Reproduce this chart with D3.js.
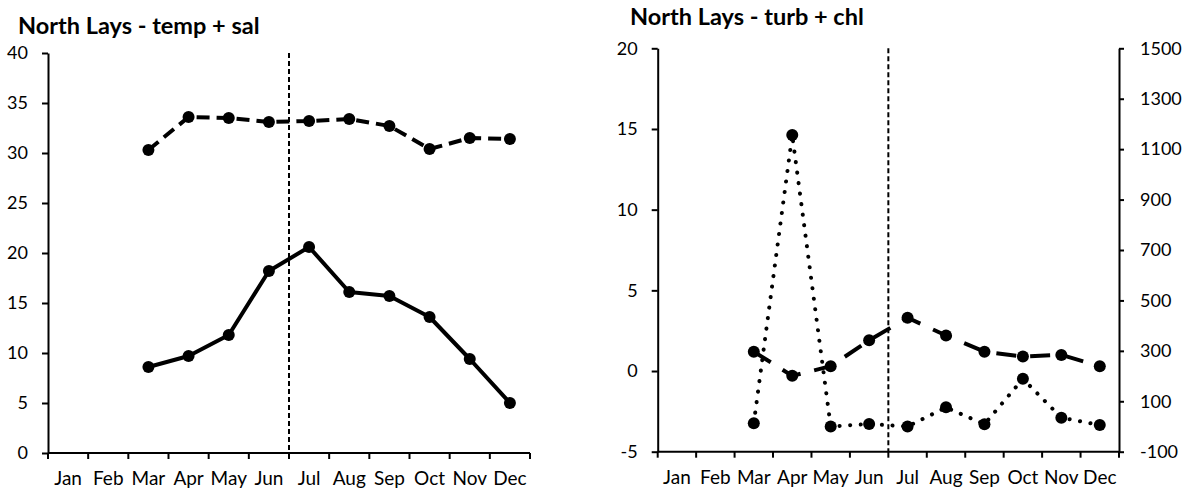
<!DOCTYPE html>
<html>
<head>
<meta charset="utf-8">
<script src="https://cdn.jsdelivr.net/npm/d3@7"></script>
<style>
  html, body { margin: 0; padding: 0; background: #fff; }
  svg { display: block; font-family: Lato, "Open Sans", sans-serif; }
  .title { font-weight: bold; font-size: 23.5px; }
</style>
</head>
<body>
<svg id="chart" width="1189" height="492"></svg>
<script>
// Monthly readings, North Lays
const months = ["Jan","Feb","Mar","Apr","May","Jun","Jul","Aug","Sep","Oct","Nov","Dec"];
const temp = [null, null, 8.6, 9.7, 11.8, 18.2, 20.6, 16.1, 15.7, 13.6, 9.4, 5.0];
const sal  = [null, null, 30.3, 33.6, 33.5, 33.1, 33.2, 33.4, 32.7, 30.4, 31.5, 31.4];
const turb = [null, null, 1.2, -0.3, 0.3, 1.9, 3.3, 2.2, 1.2, 0.9, 1.0, 0.3];
const chl  = [null, null, 13, 1156, 0, 10, 0, 76, 9, 189, 35, 6];

const tickLeftA  = [0, 5, 10, 15, 20, 25, 30, 35, 40];
const tickLeftB  = [-5, 0, 5, 10, 15, 20];
const tickRightB = [-100, 100, 300, 500, 700, 900, 1100, 1300, 1500];
const splitMonth = "Jul";

const LABEL_SIZE = 18;
const MONTH_SIZE = 19;
const plain = v => String(v);   // hyphen-minus, no thousands separator

const svg = d3.select("#chart");

function pts(vals) {
  return months.map((m, i) => ({ m, v: vals[i] })).filter(d => d.v !== null);
}

function monthAxis(g, x, y0) {
  // baseline
  g.append("line")
    .attr("x1", x.range()[0]).attr("x2", x.range()[1])
    .attr("y1", y0).attr("y2", y0)
    .attr("stroke", "#000").attr("stroke-width", 2);
  // tick marks at month boundaries
  const bounds = months.map(m => x(m)).concat([x.range()[1]]);
  g.selectAll(null).data(bounds).join("line")
    .attr("x1", d => d).attr("x2", d => d)
    .attr("y1", y0).attr("y2", y0 + 6)
    .attr("stroke", "#000").attr("stroke-width", 2);
  // labels centred in each band
  const ax = g.append("g").attr("transform", `translate(0,${y0})`)
    .call(d3.axisBottom(x).tickSize(0).tickPadding(19));
  ax.select(".domain").remove();
  ax.selectAll("text").attr("font-size", MONTH_SIZE).attr("font-family", "Lato, sans-serif").attr("fill", "#000");
}

function valueAxis(g, axis, xPos) {
  const ax = g.append("g").attr("transform", `translate(${xPos},0)`).call(axis);
  ax.select(".domain").attr("stroke-width", 2);
  ax.selectAll(".tick line").attr("stroke-width", 2);
  ax.selectAll("text").attr("font-size", LABEL_SIZE).attr("font-family", "Lato, sans-serif").attr("fill", "#000");
  return ax;
}

function series(g, data, x, y, dash, width) {
  const line = d3.line().x(d => x(d.m) + x.bandwidth() / 2).y(d => y(d.v));
  g.append("path").datum(data)
    .attr("d", line)
    .attr("fill", "none").attr("stroke", "#000")
    .attr("stroke-width", width)
    .attr("stroke-linecap", dash === "dot" ? "round" : "butt")
    .attr("stroke-linejoin", "round")
    .attr("stroke-dasharray", dash === "dot" ? "0.1,10.5" : dash);
  g.selectAll(null).data(data).join("circle")
    .attr("cx", d => x(d.m) + x.bandwidth() / 2)
    .attr("cy", d => y(d.v))
    .attr("r", 6)
    .attr("fill", "#000");
}

// ---- Panel A: temperature + salinity ----
{
  const g = svg.append("g");
  const x = d3.scaleBand().domain(months).range([48, 530]);
  const y = d3.scaleLinear().domain([0, 40]).range([453, 53]);

  g.append("text").attr("class", "title").attr("x", 18).attr("y", 34)
    .text("North Lays - temp + sal");

  valueAxis(g, d3.axisLeft(y).tickValues(tickLeftA).tickFormat(plain)
    .tickSize(6).tickSizeOuter(0).tickPadding(14), 48);
  monthAxis(g, x, 453);

  g.append("line")
    .attr("x1", x(splitMonth)).attr("x2", x(splitMonth))
    .attr("y1", y(40)).attr("y2", y(0))
    .attr("stroke", "#000").attr("stroke-width", 2)
    .attr("stroke-dasharray", "5,3");

  series(g, pts(sal), x, y, "13,7", 4);
  series(g, pts(temp), x, y, null, 4);
}

// ---- Panel B: turbidity + chlorophyll ----
{
  const g = svg.append("g");
  const x = d3.scaleBand().domain(months).range([657.7, 1119]);
  const yL = d3.scaleLinear().domain([-5, 20]).range([451.7, 48.3]);
  const yR = d3.scaleLinear().domain([-100, 1500]).range([451.7, 48.3]);

  g.append("text").attr("class", "title").attr("x", 630).attr("y", 25)
    .text("North Lays - turb + chl");

  valueAxis(g, d3.axisLeft(yL).tickValues(tickLeftB).tickFormat(plain)
    .tickSize(6).tickSizeOuter(0).tickPadding(14), 657.7);
  valueAxis(g, d3.axisRight(yR).tickValues(tickRightB).tickFormat(plain)
    .tickSize(5).tickSizeOuter(0).tickPadding(16), 1119);
  monthAxis(g, x, 451.7);

  g.append("line")
    .attr("x1", x(splitMonth)).attr("x2", x(splitMonth))
    .attr("y1", yL(20)).attr("y2", yL(-5))
    .attr("stroke", "#000").attr("stroke-width", 2)
    .attr("stroke-dasharray", "5,3");

  series(g, pts(turb), x, yL, "20,14", 4);
  series(g, pts(chl), x, yR, "dot", 4);
}
</script>
</body>
</html>
